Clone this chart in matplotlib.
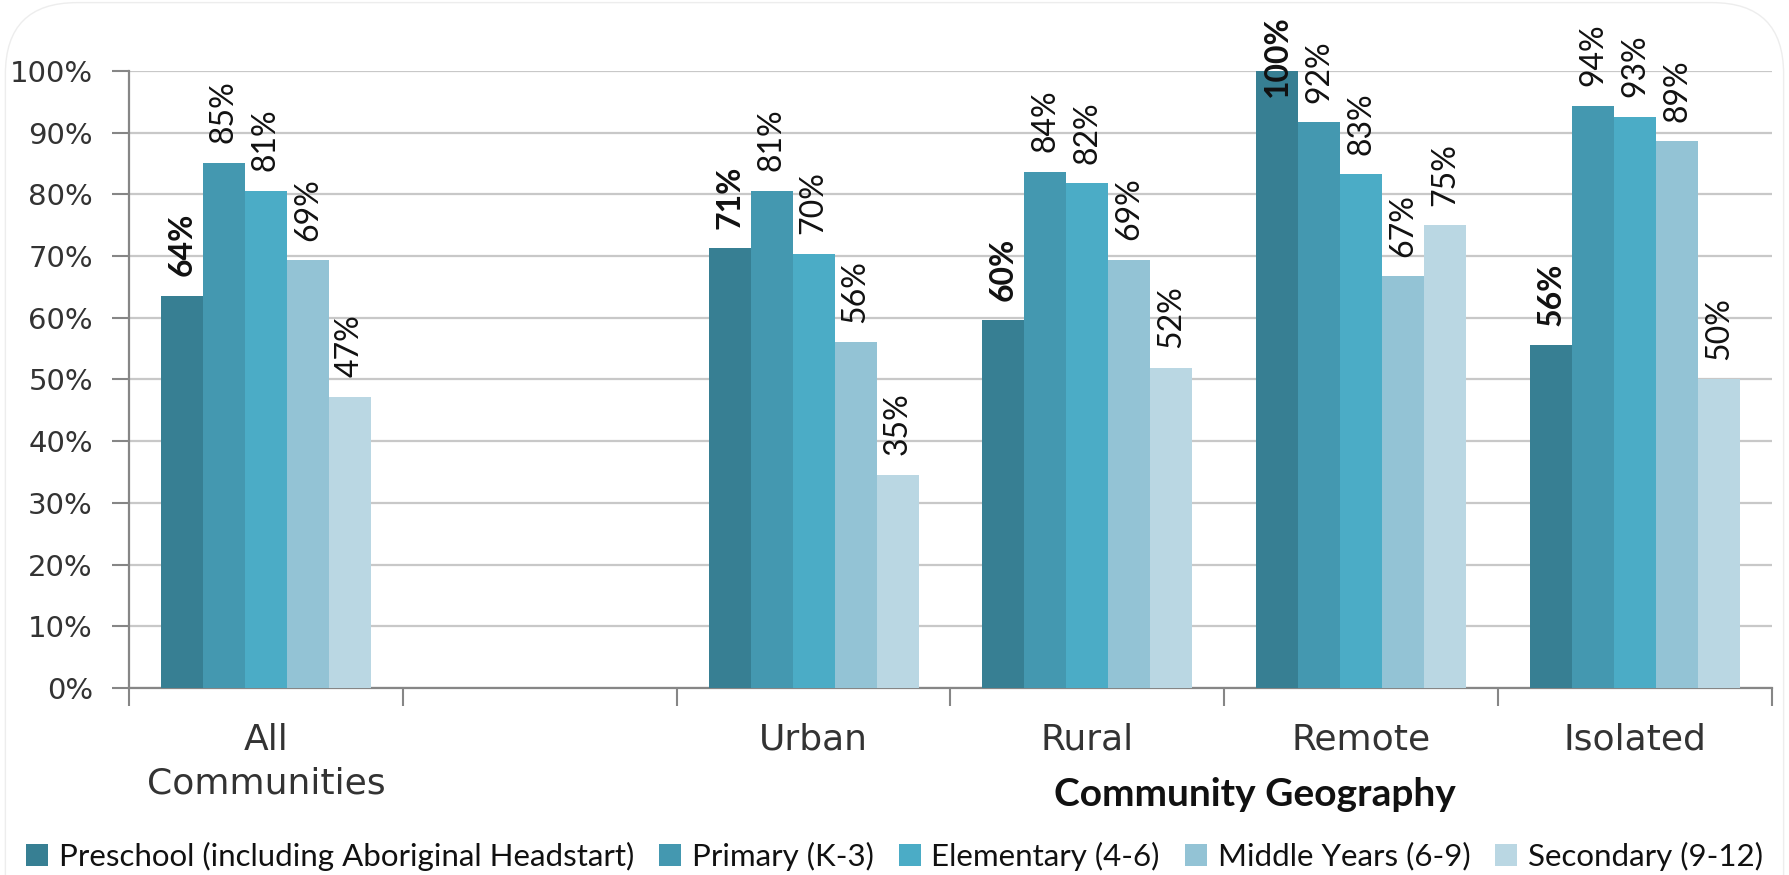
import numpy as np
import matplotlib
matplotlib.use("Agg")
import matplotlib.pyplot as plt
from matplotlib.patches import FancyBboxPatch, Patch

categories = ["All\nCommunities", "", "Urban", "Rural", "Remote", "Isolated"]
series_names = ["Preschool (including Aboriginal Headstart)", "Primary (K-3)",
                "Elementary (4-6)", "Middle Years (6-9)", "Secondary (9-12)"]
preschool = [63.6, np.nan, 71.3, 59.6, 100.0, 55.6]
primary = [85.1, np.nan, 80.6, 83.7, 91.7, 94.4]
elementary = [80.6, np.nan, 70.4, 81.8, 83.3, 92.6]
middle = [69.3, np.nan, 56.0, 69.4, 66.7, 88.6]
secondary = [47.2, np.nan, 34.6, 51.9, 75.0, 50.0]
yticks = [0, 10, 20, 30, 40, 50, 60, 70, 80, 90, 100]

series = [preschool, primary, elementary, middle, secondary]
colors = ["#377F93", "#4498B0", "#4BACC6", "#93C3D5", "#BAD7E3"]

W, H = 1789, 875
fig = plt.figure(figsize=(W / 100, H / 100), dpi=100)
ax = fig.add_axes([129 / W, 1 - 688 / H, (1772 - 129) / W, (688 - 71) / H])

# faint rounded chart-area border
border = FancyBboxPatch((0.003, -0.2), 0.994, 1.197, boxstyle="round,pad=0,rounding_size=0.04",
                        transform=fig.transFigure, fill=False, edgecolor="#ededed", linewidth=1.0,
                        mutation_aspect=W / H, clip_on=False)
fig.patches.append(border)

x = np.arange(len(categories))
n = len(series)
bw = 0.767 / n
tick_font = "DejaVu Sans"
lab_font = "Lato"

for i, (vals, col) in enumerate(zip(series, colors)):
    pos = x + (i - (n - 1) / 2) * bw
    ax.bar(pos, vals, width=bw, color=col, zorder=3, linewidth=0)
    for px, v in zip(pos, vals):
        if np.isnan(v):
            continue
        off = 14 if v < 97 else -19
        ax.annotate(f"{round(v):d}%", (px, v), xytext=(0, off), textcoords="offset points",
                    rotation=90, ha="center", va="bottom", fontsize=23,
                    fontweight="bold" if i == 0 else "normal", family=lab_font,
                    color="#111111", annotation_clip=False, zorder=5)

ax.set_xlim(-0.5, len(categories) - 0.5)
ax.set_ylim(0, 100)
ax.set_yticks(yticks)
ax.set_yticklabels([f"{t}%" for t in yticks], family=tick_font, fontsize=21, color="#333333")
ax.yaxis.grid(True, color="#c8c8c8", linewidth=1.6, zorder=0)
ax.set_axisbelow(True)

ax.set_xticks(x)
ax.set_xticklabels(categories, family=tick_font, fontsize=26, color="#333333", linespacing=1.35)
ax.set_xticks(np.arange(-0.5, len(categories)), minor=True)
ax.tick_params(axis="x", which="major", length=0, pad=25)
ax.tick_params(axis="x", which="minor", length=13, width=1.5, color="#868686")
ax.tick_params(axis="y", length=12, width=1.5, color="#868686", pad=14)

for s in ["top", "right"]:
    ax.spines[s].set_visible(False)
for s in ["left", "bottom"]:
    ax.spines[s].set_color("#868686")
    ax.spines[s].set_linewidth(1.6)

fig.text(1255 / W, 1 - 795 / H, "Community Geography", ha="center", va="center",
         family=lab_font, fontweight="bold", fontsize=28, color="#111111")

handles = [Patch(facecolor=c, edgecolor="none") for c in colors]
fig.legend(handles, series_names, loc="center", bbox_to_anchor=(0.5, 1 - 856 / H), ncol=5,
           frameon=False, prop={"family": lab_font, "size": 22.5}, handlelength=0.7,
           handleheight=0.7, handletextpad=0.35, columnspacing=0.8, labelcolor="#111111")

fig.savefig("out.png", dpi=100)
